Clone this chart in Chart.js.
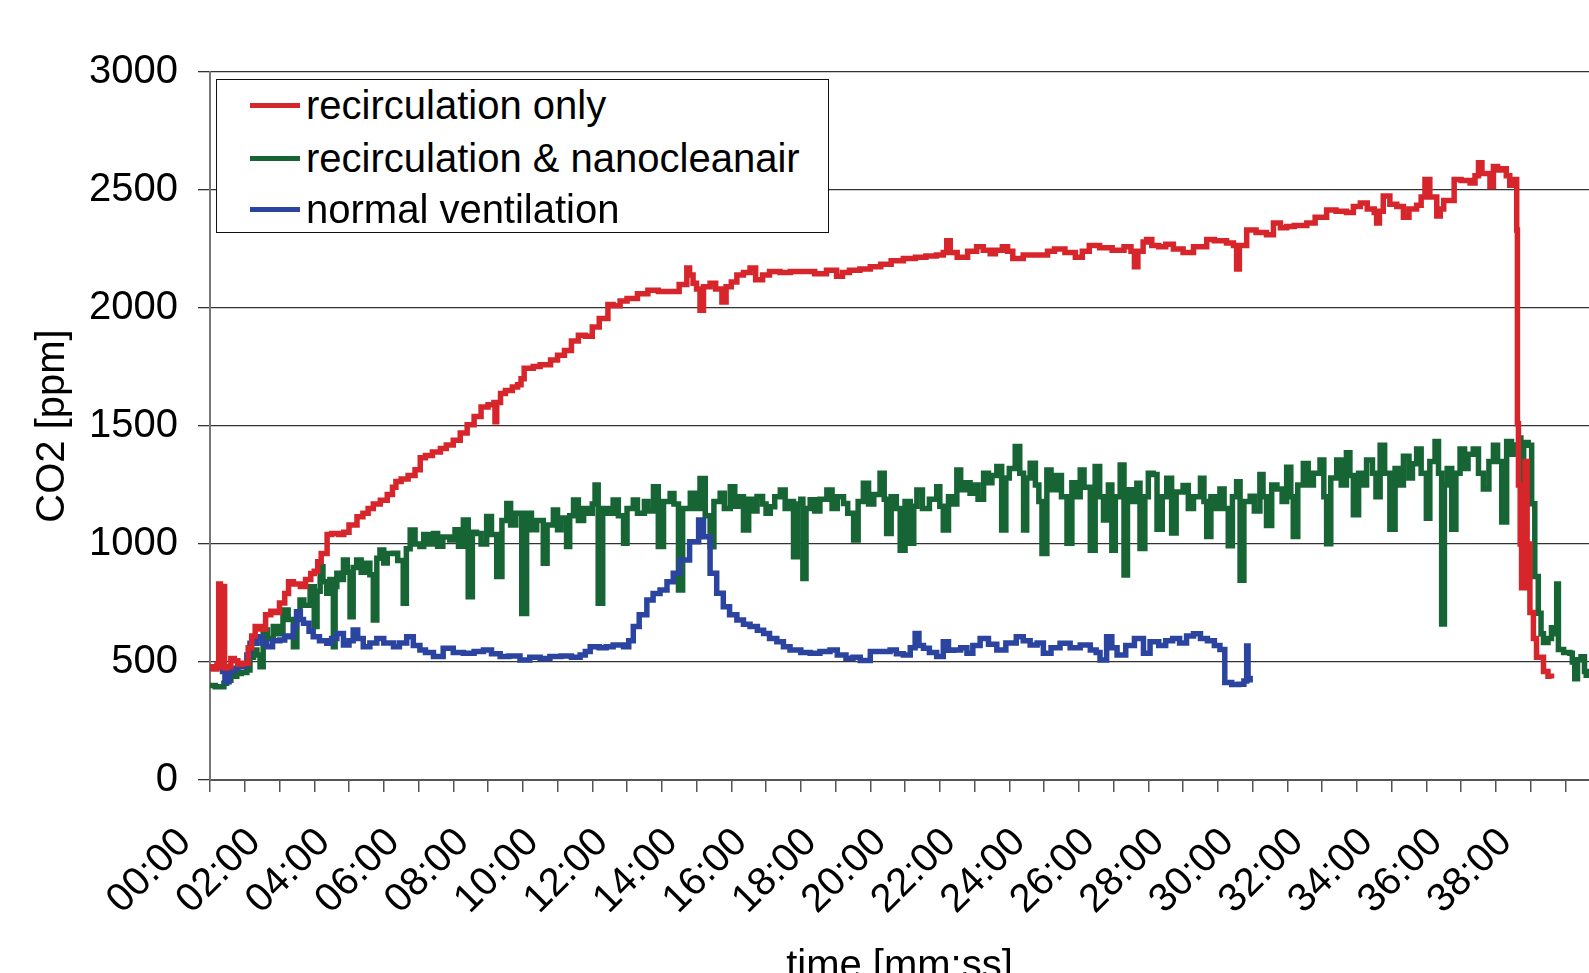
<!DOCTYPE html>
<html>
<head>
<meta charset="utf-8">
<script src="https://cdn.jsdelivr.net/npm/chart.js@4.4.1/dist/chart.umd.min.js"></script>
<style>
  body { margin: 0; background: #fff; }
  #wrap { position: relative; width: 1589px; height: 973px; overflow: hidden; }
  #legendBox {
    position: absolute; left: 216px; top: 79px; width: 611px; height: 152px;
    border: 1.5px solid #111; background: #fff;
    font-family: "Liberation Sans", Arial, sans-serif; font-size: 40px; color: #000;
  }
  .row { position: absolute; left: 0; height: 52px; line-height: 52px; white-space: nowrap; }
  .swatch { position: absolute; left: 33px; top: 24px; width: 50px; height: 5px; }
  .txt { position: absolute; left: 89px; top: 0; }
</style>
</head>
<body>
<div id="wrap">
  <canvas id="co2Chart" width="1589" height="973"></canvas>
  <div id="legendBox"></div>
</div>
<script>
// ---------------------------------------------------------
// DATA  (time in minutes, CO2 in ppm)
// ---------------------------------------------------------
const seriesLabels = ['recirculation only', 'recirculation & nanocleanair', 'normal ventilation'];
const seriesColors = ['#d7262b', '#176534', '#2b44a0'];

const xTickLabels = ['00:00','02:00','04:00','06:00','08:00','10:00','12:00','14:00','16:00','18:00',
                     '20:00','22:00','24:00','26:00','28:00','30:00','32:00','34:00','36:00','38:00'];
const yTicks = [0, 500, 1000, 1500, 2000, 2500, 3000];

const redTime = [0,0.1,0.2,0.25,0.3,0.35,0.42,0.5,0.6,0.7,0.8,0.95,1.1,1.2,1.3,1.45,1.6,1.75,1.9,2.0,
  2.15,2.26,2.4,2.6,2.75,2.9,3.0,3.1,3.2,3.37,3.5,3.7,3.85,4.0,4.23,4.4,4.55,4.7,4.9,5.1,
  5.25,5.35,5.5,5.7,5.9,6.05,6.2,6.4,6.63,6.8,7.0,7.2,7.4,7.6,7.8,8.0,8.17,8.2,8.25,8.36,
  8.5,8.7,8.85,8.95,9.04,9.2,9.3,9.5,9.8,10.0,10.2,10.4,10.6,10.8,11.0,11.2,11.45,11.6,11.8,12.0,
  12.3,12.6,12.9,13.24,13.5,13.72,13.8,13.9,14.0,14.1,14.2,14.39,14.55,14.73,14.85,15.0,15.16,15.35,15.54,15.7,
  15.9,16.1,16.4,16.7,17.07,17.4,17.74,18.03,18.2,18.4,18.7,19.0,19.3,19.6,19.95,20.3,20.6,20.9,21.1,21.2,
  21.3,21.5,21.8,22.06,22.25,22.45,22.6,22.8,22.95,23.1,23.4,23.8,24.1,24.3,24.6,24.9,25.1,25.3,25.6,25.96,
  26.3,26.5,26.6,26.7,26.85,26.95,27.1,27.3,27.5,27.72,28.0,28.3,28.68,28.9,29.25,29.45,29.54,29.62,29.83,30.1,
  30.4,30.6,30.8,30.98,31.2,31.56,31.8,32.13,32.4,32.7,32.9,33.1,33.3,33.5,33.57,33.65,33.76,33.95,34.15,34.34,
  34.5,34.72,34.85,34.96,35.1,35.3,35.4,35.5,35.8,36.0,36.26,36.4,36.5,36.6,36.83,36.93,37.05,37.2,37.3,37.4,
  37.5,37.55,37.6,37.62,37.65,37.7,37.74,37.84,37.9,37.98,38.08,38.17,38.37,38.5,38.6];
const redVals = [480,470,490,830,480,820,475,480,515,505,490,495,560,610,650,640,700,715,710,750,
  790,840,830,820,850,875,885,925,960,1040,1045,1040,1050,1080,1115,1130,1150,1170,1185,1210,
  1240,1265,1275,1290,1315,1365,1375,1390,1405,1420,1440,1470,1505,1540,1580,1590,1600,1518,1600,1638,
  1650,1665,1675,1700,1745,1745,1752,1760,1780,1800,1820,1860,1885,1880,1920,1955,2015,2010,2030,2040,
  2060,2075,2070,2070,2100,2170,2140,2105,2080,1990,2090,2105,2080,2025,2090,2110,2140,2150,2170,2120,
  2140,2155,2150,2155,2155,2145,2160,2135,2150,2160,2165,2175,2185,2200,2210,2215,2220,2225,2235,2285,
  2235,2215,2240,2260,2245,2230,2245,2260,2240,2210,2225,2225,2240,2250,2235,2215,2240,2265,2255,2245,
  2260,2240,2175,2240,2280,2290,2265,2260,2270,2250,2235,2260,2290,2285,2275,2265,2165,2265,2330,2320,
  2310,2360,2340,2345,2350,2360,2385,2415,2410,2405,2430,2445,2420,2405,2360,2410,2475,2440,2430,2385,
  2420,2435,2470,2545,2470,2390,2420,2455,2545,2540,2530,2560,2615,2570,2515,2600,2585,2590,2560,2520,
  2545,2545,2330,1510,1250,1000,815,1350,1000,710,600,520,460,440,430];

const greenTime = [0,0.15,0.29,0.4,0.48,0.6,0.77,0.9,1.06,1.15,1.25,1.35,1.44,1.53,1.65,1.82,1.95,2.1,2.25,2.4,
  2.5,2.59,2.7,2.88,3.0,3.08,3.17,3.25,3.36,3.45,3.55,3.6,3.65,3.75,3.84,3.95,4.03,4.12,4.22,4.35,
  4.5,4.6,4.7,4.8,4.89,5.0,5.1,5.28,5.4,5.56,5.65,5.76,5.9,6.04,6.15,6.3,6.43,6.55,6.7,6.9,
  7.05,7.15,7.29,7.43,7.55,7.67,7.8,7.96,8.1,8.25,8.4,8.54,8.65,8.8,8.97,9.11,9.25,9.4,9.59,9.7,
  9.88,10.0,10.1,10.26,10.35,10.46,10.6,10.75,10.9,11.0,11.08,11.17,11.3,11.45,11.6,11.75,11.9,12.0,12.18,12.3,
  12.5,12.6,12.76,12.9,13.05,13.24,13.35,13.48,13.6,13.82,13.95,14.1,14.25,14.39,14.5,14.68,14.8,14.97,15.1,15.2,
  15.35,15.5,15.6,15.74,15.9,16.0,16.12,16.25,16.41,16.55,16.7,16.79,16.9,17.0,17.06,17.15,17.27,17.4,17.55,17.75,
  17.9,18.05,18.23,18.35,18.52,18.65,18.8,18.95,19.1,19.28,19.4,19.47,19.6,19.75,19.86,20.0,20.15,20.25,20.34,20.5,
  20.7,20.91,21.0,21.1,21.25,21.35,21.49,21.6,21.75,21.87,22.0,22.1,22.26,22.4,22.5,22.64,22.78,22.9,23.0,23.17,
  23.3,23.41,23.5,23.6,23.75,23.85,23.94,24.08,24.2,24.35,24.5,24.66,24.8,24.9,25.04,25.15,25.33,25.47,25.6,25.71,
  25.85,25.95,26.05,26.19,26.3,26.4,26.55,26.67,26.76,26.9,27.0,27.14,27.25,27.4,27.53,27.67,27.8,28.0,28.15,28.3,
  28.5,28.6,28.68,28.8,28.95,29.06,29.18,29.3,29.42,29.54,29.64,29.75,29.93,30.05,30.21,30.3,30.4,30.55,30.7,30.85,
  30.98,31.1,31.17,31.3,31.46,31.6,31.75,31.94,32.05,32.13,32.25,32.42,32.55,32.7,32.8,32.9,33.05,33.15,33.28,33.45,
  33.55,33.67,33.8,33.95,34.1,34.2,34.34,34.5,34.6,34.72,34.85,35.0,35.1,35.25,35.35,35.44,35.52,35.6,35.73,35.85,
  35.97,36.1,36.2,36.35,36.5,36.64,36.8,36.93,37.05,37.17,37.31,37.45,37.6,37.7,37.72,37.8,37.93,38.03,38.12,38.22,
  38.3,38.37,38.5,38.6,38.7,38.75,38.8,38.95,39.13,39.2,39.27,39.35,39.45,39.55,39.6,39.68];
const greenVals = [400,395,395,410,423,440,451,455,466,520,551,530,480,636,600,650,620,720,680,565,
  700,763,740,819,650,800,904,840,791,850,565,820,876,850,932,880,692,900,932,880,
  918,870,678,940,975,920,960,961,930,749,980,1059,1000,989,1040,1000,1045,990,1030,1017,
  1060,990,1102,777,1050,1045,1000,1116,1040,862,1100,1172,1080,1130,706,1130,1060,1100,918,1080,
  1144,1060,1110,989,1120,1186,1100,1150,1130,1170,1250,749,1150,1130,1186,1120,1003,1150,1186,1130,
  1180,1140,1243,989,1180,1214,1170,805,1150,1215,1150,1278,1120,988,1180,1215,1150,1243,1160,1200,
  1059,1190,1140,1201,1170,1130,1158,1200,1229,1150,1180,946,1170,1190,854,1150,1187,1140,1190,1229,
  1150,1200,1172,1130,1017,1180,1257,1170,1210,1300,1190,1045,1200,1150,974,1180,1003,1160,1229,1150,
  1190,1243,1160,1059,1200,1170,1314,1230,1260,1215,1250,1190,1300,1260,1290,1328,1059,1280,1320,1413,
  1300,1059,1280,1342,1250,1180,960,1314,1230,1290,1200,1003,1260,1200,1314,1240,974,1328,1200,1102,
  1250,974,1200,1335,869,1230,1180,1257,981,1200,1300,1294,1063,1200,1279,1047,1220,1248,1150,1200,
  1279,1180,1032,1200,1150,1233,1150,993,1200,1264,846,1180,1202,1140,1294,1200,1078,1250,1233,1180,
  1325,1200,1032,1250,1341,1250,1300,1356,1200,1001,1280,1356,1250,1387,1290,1124,1300,1250,1356,1300,
  1200,1418,1300,1063,1320,1250,1372,1280,1340,1403,1300,1109,1350,1434,1300,661,1250,1320,1063,1300,
  1403,1320,1380,1403,1300,1233,1350,1418,1350,1093,1434,1380,1420,1449,1233,1430,1418,1171,862,707,
  620,583,600,645,620,831,553,540,537,500,429,510,522,460,444,450];

const blueTime = [0,0.15,0.29,0.36,0.43,0.55,0.67,0.8,0.96,1.06,1.15,1.34,1.5,1.63,1.8,2.01,2.15,2.3,2.4,2.49,
  2.6,2.69,2.85,2.97,3.15,3.36,3.5,3.65,3.84,4.0,4.12,4.25,4.41,4.6,4.8,5.0,5.28,5.45,5.66,5.85,
  6.04,6.2,6.43,6.71,7.0,7.29,7.6,7.87,8.1,8.35,8.6,8.92,9.2,9.5,9.78,10.1,10.4,10.65,10.8,10.94,
  11.2,11.4,11.6,11.9,12.05,12.18,12.35,12.57,12.75,12.95,13.15,13.33,13.52,13.8,14.06,14.2,14.39,14.58,14.77,14.95,
  15.16,15.35,15.54,15.75,15.93,16.1,16.31,16.5,16.69,17.0,17.27,17.55,17.84,18.05,18.3,18.5,18.71,19.0,19.3,19.57,
  19.75,19.95,20.15,20.29,20.4,20.53,20.7,20.91,21.1,21.25,21.4,21.6,21.78,21.95,22.16,22.4,22.64,22.9,23.2,23.4,
  23.6,23.8,23.98,24.2,24.46,24.75,25.04,25.33,25.5,25.61,25.8,25.95,26.1,26.35,26.6,26.86,27.05,27.3,27.5,27.7,
  27.9,28.1,28.3,28.5,28.7,28.9,29.06,29.2,29.4,29.6,29.75,29.83,29.87,29.93];
const blueVals = [473,478,480,460,416,460,473,480,487,530,579,607,580,565,590,593,610,607,650,713,
  680,664,630,607,590,579,600,621,572,590,636,600,565,580,600,580,565,580,607,570,
  551,540,523,558,540,537,545,551,535,523,525,508,520,515,523,525,520,530,545,565,
  560,565,572,565,590,650,700,763,790,805,840,876,932,1010,1102,1031,876,791,734,700,
  678,660,650,635,621,600,586,565,551,540,537,545,551,530,516,520,506,544,545,551,
  535,530,560,621,570,558,540,523,586,550,551,560,537,570,600,575,551,580,607,590,
  572,580,537,560,579,560,572,551,540,509,607,560,530,570,600,537,586,570,590,600,
  580,610,620,600,590,570,553,413,405,406,420,568,430,413];

// ---------------------------------------------------------
// BUILD CHART
// ---------------------------------------------------------
const toPoints = (ts, vs) => ts.map((t, i) => ({ x: t, y: vs[i] }));
const seriesData = [toPoints(redTime, redVals), toPoints(greenTime, greenVals), toPoints(blueTime, blueVals)];
const drawOrder = [0, 2, 1]; // red on top, then blue, green underneath

const font = 'Liberation Sans, Arial, sans-serif';

const datasets = seriesLabels.map((label, i) => ({
    label: label,
    data: seriesData[i],
    borderColor: seriesColors[i],
    backgroundColor: seriesColors[i],
    borderWidth: 5.5,
    pointRadius: 0,
    stepped: true,
    order: drawOrder[i]
}));

const chart = new Chart(document.getElementById('co2Chart'), {
    type: 'line',
    data: { datasets: datasets },
    options: {
        responsive: false,
        animation: false,
        layout: { padding: { top: 72, right: 0, bottom: 0, left: 0 } },
        plugins: {
            legend: { display: false },
            tooltip: { enabled: false }
        },
        scales: {
            x: {
                type: 'linear',
                min: 0,
                max: 39.68,
                afterFit: scale => {
                    scale.height = 193;
                    scale.paddingRight = 0;
                },
                ticks: {
                    stepSize: 1,
                    includeBounds: false,
                    autoSkip: false,
                    maxRotation: 45,
                    minRotation: 45,
                    padding: 27,
                    labelOffset: -25,
                    color: '#000',
                    font: { family: font, size: 40 },
                    callback: v => (v % 2 === 0 ? xTickLabels[v / 2] : '')
                },
                grid: {
                    drawOnChartArea: false,
                    drawTicks: true,
                    tickLength: 12,
                    color: '#555',
                    lineWidth: 1.5
                },
                border: { display: true, color: '#555', width: 2 },
                title: {
                    display: true,
                    text: 'time [mm:ss]',
                    color: '#000',
                    font: { family: font, size: 40, lineHeight: 0.75 },
                    padding: { top: 0, bottom: -9 }
                }
            },
            y: {
                min: 0,
                max: 3000,
                afterFit: scale => { scale.width = 210; },
                afterBuildTicks: scale => { scale.ticks = yTicks.map(v => ({ value: v })); },
                ticks: {
                    padding: 20,
                    color: '#000',
                    font: { family: font, size: 40 },
                    callback: v => String(v)
                },
                grid: {
                    color: '#333',
                    lineWidth: 1.3,
                    tickLength: 12
                },
                border: { display: true, color: '#777', width: 2 },
                title: {
                    display: true,
                    text: 'CO2 [ppm]',
                    color: '#000',
                    font: { family: font, size: 40 },
                    padding: { top: 29, bottom: 0 }
                }
            }
        }
    }
});

// ---------------------------------------------------------
// LEGEND (boxed, top-left of plot area)
// ---------------------------------------------------------
const legendBox = document.getElementById('legendBox');
const rowCenters = [25, 78, 129];
seriesLabels.forEach((label, i) => {
    const row = document.createElement('div');
    row.className = 'row';
    row.style.top = (rowCenters[i] - 26) + 'px';
    row.innerHTML = '<span class="swatch" style="background:' + seriesColors[i] + '"></span>' +
                    '<span class="txt"></span>';
    row.querySelector('.txt').textContent = label;
    legendBox.appendChild(row);
});
</script>
</body>
</html>
